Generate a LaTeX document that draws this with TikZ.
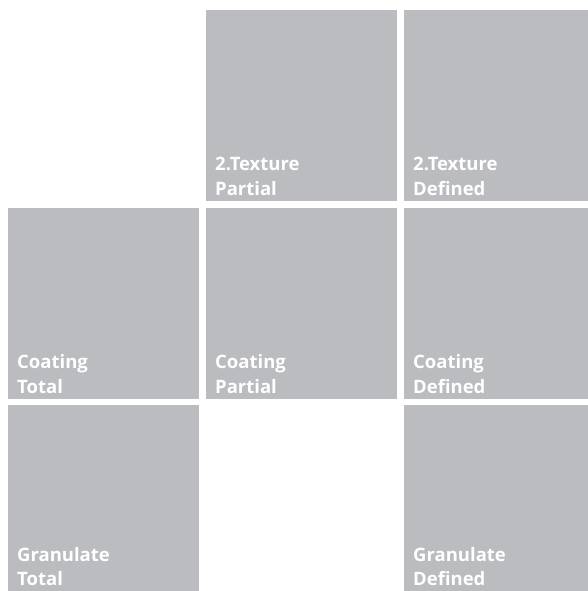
\documentclass[tikz,border=0pt]{standalone}
\usepackage{fontspec}
\setmainfont{Open Sans}
\definecolor{tilegrey}{RGB}{187,188,192}
\begin{document}
\begin{tikzpicture}[x=1pt,y=1pt,
  tile/.style={fill=tilegrey,draw=none,minimum width=191pt,minimum height=191pt,inner sep=0pt,anchor=north west},
  lbl/.style={text=white,font=\bfseries\fontsize{18.5}{24.5}\selectfont,align=left,anchor=base west,inner sep=0pt}]
\useasboundingbox (0,0) rectangle (588,-591);
\clip (0,0) rectangle (588,-591);
\node[tile] (tp) at (206,-10) {};
\node[tile] (td) at (404,-10) {};
\node[tile] (ct) at (8,-208) {};
\node[tile] (cp) at (206,-208) {};
\node[tile] (cd) at (404,-208) {};
\node[tile] (gt) at (8,-405) {};
\node[tile] (gd) at (404,-405) {};
\node[lbl] (ltp) at ([shift={(9,6)}]tp.south west) {2.Texture\\Partial};
\node[lbl] (ltd) at ([shift={(9,6)}]td.south west) {2.Texture\\Defined};
\node[lbl] (lct) at ([shift={(9,6)}]ct.south west) {Coating\\Total};
\node[lbl] (lcp) at ([shift={(9,6)}]cp.south west) {Coating\\Partial};
\node[lbl] (lcd) at ([shift={(9,6)}]cd.south west) {Coating\\Defined};
\node[lbl] (lgt) at ([shift={(9,10.5)}]gt.south west) {Granulate\\Total};
\node[lbl] (lgd) at ([shift={(9,10.5)}]gd.south west) {Granulate\\Defined};
\end{tikzpicture}
\end{document}
